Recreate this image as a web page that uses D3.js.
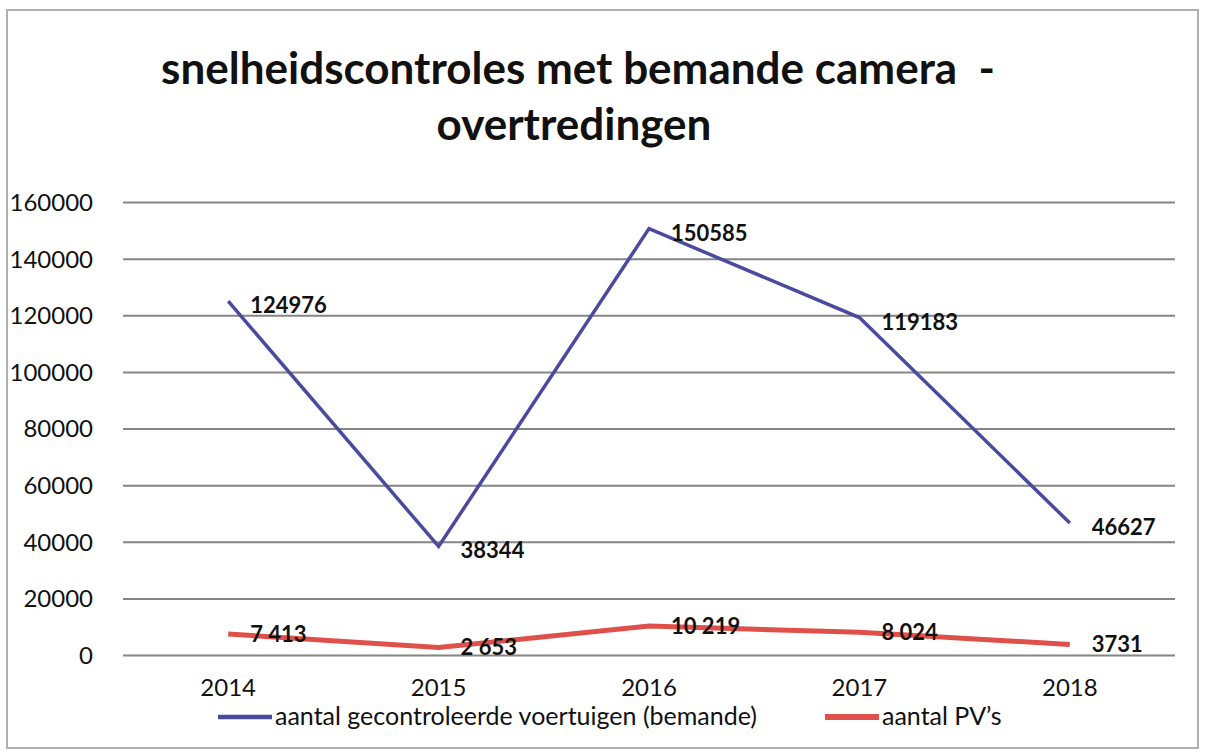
<!DOCTYPE html>
<html>
<head>
<meta charset="utf-8">
<script src="https://cdn.jsdelivr.net/npm/d3@7"></script>
<style>
  body { margin: 0; background: #fff; }
  svg text { font-family: Lato, "Open Sans", sans-serif; fill: #111; }
</style>
</head>
<body>
<div id="wrapper"></div>
<script>
const years = ["2014", "2015", "2016", "2017", "2018"];
const gecontroleerd = [124976, 38344, 150585, 119183, 46627];
const pvs = [7413, 2653, 10219, 8024, 3731];
const pvLabels = ["7 413", "2 653", "10 219", "8 024", "3731"];
const yTicks = [0, 20000, 40000, 60000, 80000, 100000, 120000, 140000, 160000];
const seriesNames = ["aantal gecontroleerde voertuigen (bemande)", "aantal PV\u2019s"];

function buildPlot() {
    const dimension = {
        width: 1210,
        height: 753,
        margin: { top: 202, left: 123, bottom: 98, right: 35 }
    };
    dimension.boundedWidth = dimension.width - dimension.margin.left - dimension.margin.right;
    dimension.boundedHeight = dimension.height - dimension.margin.top - dimension.margin.bottom;

    const svg = d3.select("#wrapper").append("svg")
        .attr("width", dimension.width)
        .attr("height", dimension.height);

    // outer frame of the pasted chart
    svg.append("rect")
        .attr("x", 7).attr("y", 10)
        .attr("width", 1191).attr("height", 738)
        .attr("fill", "none")
        .attr("stroke", "#b0b0b0")
        .attr("stroke-width", 2);

    // title
    const title = svg.append("text")
        .attr("text-anchor", "middle")
        .style("font-weight", "bold")
        .style("font-size", "44px")
        .style("white-space", "pre");
    title.append("tspan").attr("x", 578).attr("y", 84).text("snelheidscontroles met bemande camera  -");
    title.append("tspan").attr("x", 574).attr("y", 140).text("overtredingen");

    const bounds = svg.append("g")
        .attr("transform", `translate(${dimension.margin.left},${dimension.margin.top})`);

    const xScaler = d3.scaleBand()
        .domain(years)
        .range([0, dimension.boundedWidth]);
    const xPos = (y) => xScaler(y) + xScaler.bandwidth() / 2;

    const yScaler = d3.scaleLinear()
        .domain([0, 160000])
        .range([dimension.boundedHeight, 0]);

    // gridlines + y labels
    const yAxisGenerator = d3.axisLeft(yScaler)
        .tickValues(yTicks)
        .tickFormat(d3.format("d"))
        .tickSize(-dimension.boundedWidth)
        .tickPadding(30);
    const yAxis = bounds.append("g").call(yAxisGenerator);
    yAxis.select(".domain").remove();
    yAxis.selectAll("line").attr("stroke", "#858585").attr("stroke-width", 2);
    yAxis.selectAll("text")
        .style("font-size", "24px")
        .attr("fill", "#111")
        .attr("dy", "0.35em");

    // x labels
    const xAxisGenerator = d3.axisBottom(xScaler).tickSize(0).tickPadding(24);
    const xAxis = bounds.append("g")
        .attr("transform", `translate(0,${dimension.boundedHeight})`)
        .call(xAxisGenerator);
    xAxis.select(".domain").remove();
    xAxis.selectAll("text").style("font-size", "24px").attr("fill", "#111");

    const line = d3.line()
        .x((d, i) => xPos(years[i]))
        .y((d) => yScaler(d));

    bounds.append("path")
        .datum(gecontroleerd)
        .attr("d", line)
        .attr("fill", "none")
        .attr("stroke", "#4b4a9e")
        .attr("stroke-width", 3.5);

    bounds.append("path")
        .datum(pvs)
        .attr("d", line)
        .attr("fill", "none")
        .attr("stroke", "#e0504a")
        .attr("stroke-width", 5);

    // data labels
    bounds.selectAll(".lblBlue")
        .data(gecontroleerd)
        .enter().append("text")
        .attr("x", (d, i) => xPos(years[i]) + 22)
        .attr("y", (d) => yScaler(d) + 12)
        .style("font-size", "22px")
        .style("font-weight", "bold")
        .text((d) => d);

    bounds.selectAll(".lblRed")
        .data(pvs)
        .enter().append("text")
        .attr("x", (d, i) => xPos(years[i]) + 22)
        .attr("y", (d) => yScaler(d) + 8)
        .style("font-size", "22px")
        .style("font-weight", "bold")
        .text((d, i) => pvLabels[i]);

    // legend
    const legend = svg.append("g");
    const items = [
        { name: seriesNames[0], color: "#4b4a9e", w: 3.5, x: 218 },
        { name: seriesNames[1], color: "#e0504a", w: 5, x: 825 }
    ];
    items.forEach((it) => {
        legend.append("line")
            .attr("x1", it.x).attr("x2", it.x + 54)
            .attr("y1", 717).attr("y2", 717)
            .attr("stroke", it.color)
            .attr("stroke-width", it.w + 1);
        legend.append("text")
            .attr("x", it.x + 57).attr("y", 725)
            .style("font-size", "25px")
            .text(it.name);
    });
}

buildPlot();
</script>
</body>
</html>
